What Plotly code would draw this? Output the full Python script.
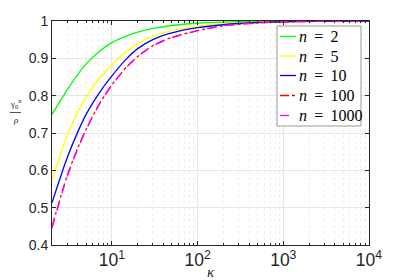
import plotly.graph_objects as go

kappa = [2, 3, 4, 5, 7, 10, 15, 20, 30, 50, 100, 200, 500, 1000, 3000, 10000]
n2 = [0.75, 0.815, 0.857, 0.885, 0.917, 0.942, 0.96, 0.97, 0.98, 0.988, 0.994, 0.997, 0.9988, 0.9994, 0.9998, 0.9999]
n5 = [0.575, 0.693, 0.756, 0.796, 0.844, 0.883, 0.92, 0.94, 0.959, 0.974, 0.986, 0.9925, 0.997, 0.9985, 0.9995, 0.9998]
n10 = [0.513, 0.633, 0.703, 0.75, 0.805, 0.853, 0.9, 0.926, 0.95, 0.968, 0.982, 0.99, 0.996, 0.998, 0.9993, 0.9998]
n100 = [0.449, 0.585, 0.66, 0.71, 0.775, 0.829, 0.878, 0.905, 0.934, 0.956, 0.974, 0.987, 0.9948, 0.9974, 0.9991, 0.9997]
n1000 = [0.445, 0.582, 0.657, 0.708, 0.773, 0.828, 0.877, 0.904, 0.933, 0.955, 0.974, 0.987, 0.9948, 0.9974, 0.9991, 0.9997]

labels = ["2", "5", "10", "100", "1000"]
series = [n2, n5, n10, n100, n1000]
colors = ["#00ff00", "#ffff00", "#0000ff", "#ff0000", "#ff00ff"]
dashes = ["solid", "solid", "solid", "dashdot", "dash"]

fig = go.Figure()
for lb, ys, c, d in zip(labels, series, colors, dashes):
    fig.add_trace(go.Scatter(x=kappa, y=ys, mode="lines", name="n = " + lb, showlegend=False,
                             line=dict(color=c, width=1.3, dash=d, shape="spline", smoothing=0.8)))

axcol = "#262626"
L, R, T, B = 52, 38, 21, 35
W, H = 407, 280
pw, ph = W - L - R, H - T - B
fig.update_layout(
    width=W, height=H,
    margin=dict(l=L, r=R, t=T, b=B, autoexpand=False),
    paper_bgcolor="white", plot_bgcolor="white",
    font=dict(family="Liberation Sans, Arial", size=14, color=axcol),
    showlegend=False,
)
fig.update_xaxes(type="log", range=[0.30103, 4], dtick=1, exponentformat="power",
                 labelalias={"10": "10<sup>1</sup>"},
                 showline=True, linecolor=axcol, linewidth=0.8, mirror="ticks",
                 ticks="inside", ticklen=4, tickcolor=axcol,
                 showgrid=True, gridcolor="#e6e6e6", gridwidth=1,
                 minor=dict(ticks="inside", ticklen=2, tickcolor=axcol, showgrid=True,
                            gridcolor="#eeeeee", griddash="dot"),
                 title=dict(text="<i>κ</i>", font=dict(family="Liberation Serif", size=15, color=axcol), standoff=0),
                 zeroline=False)
fig.update_yaxes(range=[0.4, 1], dtick=0.1, tickformat=".1~f",
                 showline=True, linecolor=axcol, linewidth=0.8, mirror="ticks",
                 ticks="inside", ticklen=4, tickcolor=axcol,
                 showgrid=True, gridcolor="#e6e6e6", gridwidth=1, zeroline=False)

def px(xp):
    return (xp - L) / pw

def py(yp):
    return (H - B - yp) / ph

# legend box drawn by hand (MATLAB-style)
fig.add_shape(type="rect", xref="paper", yref="paper", x0=px(277), x1=px(361), y0=py(126), y1=py(26),
              line=dict(color="#999999", width=1), fillcolor="white", layer="above")
ycent = [36.5, 56, 75.5, 95.5, 115.5]
for lb, c, d, yc in zip(labels, colors, dashes, ycent):
    fig.add_shape(type="line", xref="paper", yref="paper", x0=px(280), x1=px(296), y0=py(yc), y1=py(yc),
                  line=dict(color=c, width=1.3, dash=d), layer="above")
    fig.add_annotation(xref="paper", yref="paper", x=px(297), y=py(yc), xanchor="left", yanchor="middle",
                       text="<i>n</i>\u00a0\u2009=\u00a0\u2009" + lb, showarrow=False,
                       font=dict(family="Liberation Serif, DejaVu Serif", size=16, color="black"))

# y-axis label as a small fraction
fig.add_annotation(xref="paper", yref="paper", x=px(15.5), y=py(112), xanchor="center", yanchor="bottom",
                   text="γ<sub>0</sub><sup>n</sup>", showarrow=False,
                   font=dict(family="Liberation Serif", size=9, color=axcol))
fig.add_annotation(xref="paper", yref="paper", x=px(15.5), y=py(113), xanchor="center", yanchor="top",
                   text="<i>ρ</i>", showarrow=False,
                   font=dict(family="Liberation Serif", size=9, color=axcol))
fig.add_shape(type="line", xref="paper", yref="paper", x0=px(10), x1=px(21), y0=py(112.5), y1=py(112.5),
              line=dict(color=axcol, width=0.8))

fig.write_html("out.html", config={"displayModeBar": False})
with open("out.html", "r", encoding="utf-8") as f:
    html = f.read()
html = html.replace("<head>", "<head><style>html,body{margin:0;padding:0;overflow:hidden}</style>", 1)
with open("out.html", "w", encoding="utf-8") as f:
    f.write(html)
